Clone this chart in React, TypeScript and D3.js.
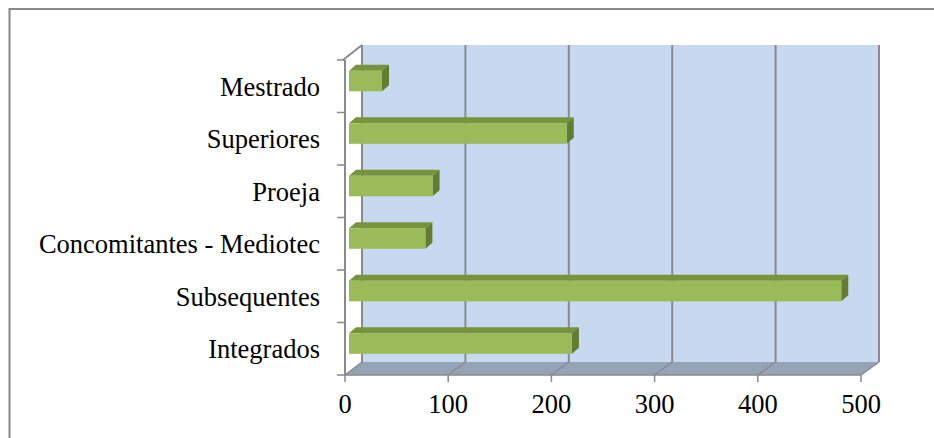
import * as d3 from 'd3'

const categories = ['Mestrado', 'Superiores', 'Proeja', 'Concomitantes - Mediotec', 'Subsequentes', 'Integrados']
const values = [32, 211, 81, 74, 477, 216]
const xTicks = [0, 100, 200, 300, 400, 500]

const W = 934
const H = 438
const GRID = '#8a8a8a'

export default function App() {
  // front plane and back wall scales
  const xf = d3.scaleLinear().domain([0, 500]).range([345, 861])
  const xb = d3.scaleLinear().domain([0, 500]).range([362, 879])
  const xBar = d3.scaleLinear().domain([0, 500]).range([349, 865])
  const y = d3.scaleBand<string>().domain(categories).range([60, 375])
  const backTop = 45
  const backBottom = 362
  const frontBottom = 375
  const frontTop = 60

  const barH = 20.5
  const sideDx = 7
  const sideDy = -6

  const floor = [
    [xf(0), frontBottom],
    [xf(500), frontBottom],
    [xb(500), backBottom],
    [xb(0), backBottom],
  ]

  return (
    <svg width={W} height={H} style={{ position: 'absolute', left: 0, top: 0 }}
      fontFamily="'Liberation Serif', 'Times New Roman', serif">
      <rect x={0} y={0} width={W} height={H} fill="#fff" />
      <rect x={9.5} y={9} width={960} height={460} fill="none" stroke="#888" strokeWidth={2} />

      {/* back wall */}
      <rect x={xb(0)} y={backTop} width={xb(500) - xb(0)} height={backBottom - backTop} fill="#c6d9f1" />
      {/* floor */}
      <polygon points={floor.map(p => p.join(',')).join(' ')} fill="#95a3b7" />

      {/* gridlines on back wall and floor */}
      {xTicks.map(t => (
        <g key={t}>
          <line x1={xb(t)} x2={xb(t)} y1={backTop} y2={backBottom} stroke={GRID} strokeWidth={2} />
          <line x1={xf(t)} x2={xb(t)} y1={frontBottom} y2={backBottom} stroke={GRID} strokeWidth={1.5} />
          <line x1={xf(t)} x2={xf(t)} y1={frontBottom} y2={frontBottom + 7} stroke={GRID} strokeWidth={1.5} />
          <text x={xf(t)} y={413} fontSize={26.5} textAnchor="middle" fill="#000">{t}</text>
        </g>
      ))}

      {/* left wall edges */}
      <line x1={xf(0)} x2={xf(0)} y1={frontTop} y2={frontBottom} stroke={GRID} strokeWidth={2} />
      <line x1={xf(0) - 2} x2={xb(0)} y1={frontTop} y2={backTop} stroke={GRID} strokeWidth={2} />
      <line x1={xf(0)} x2={xf(500)} y1={frontBottom} y2={frontBottom} stroke={GRID} strokeWidth={1.5} />

      {/* category ticks */}
      {[...categories, null].map((c, i) => {
        const yy = c ? (y(c) as number) : frontBottom
        return <line key={i} x1={xf(0) - 8} x2={xf(0)} y1={yy} y2={yy} stroke={GRID} strokeWidth={1.5} />
      })}

      {/* bars */}
      {categories.map((c, i) => {
        const cy = (y(c) as number) + y.bandwidth() / 2 - 5.2
        const top = cy - barH / 2
        const bot = cy + barH / 2
        const x0 = xBar(0)
        const x1 = xBar(values[i])
        return (
          <g key={c}>
            <polygon
              points={`${x0},${top} ${x0 + sideDx},${top + sideDy} ${x1 + sideDx},${top + sideDy} ${x1},${top}`}
              fill="#77933c" />
            <polygon
              points={`${x1},${top} ${x1 + sideDx},${top + sideDy} ${x1 + sideDx},${bot + sideDy} ${x1},${bot}`}
              fill="#627d30" />
            <rect x={x0} y={top} width={x1 - x0} height={barH} fill="#9bbb59" />
            <text x={320} y={(y(c) as number) + y.bandwidth() / 2 + 9.5} fontSize={26.5}
              textAnchor="end" fill="#000">{c}</text>
          </g>
        )
      })}
    </svg>
  )
}
